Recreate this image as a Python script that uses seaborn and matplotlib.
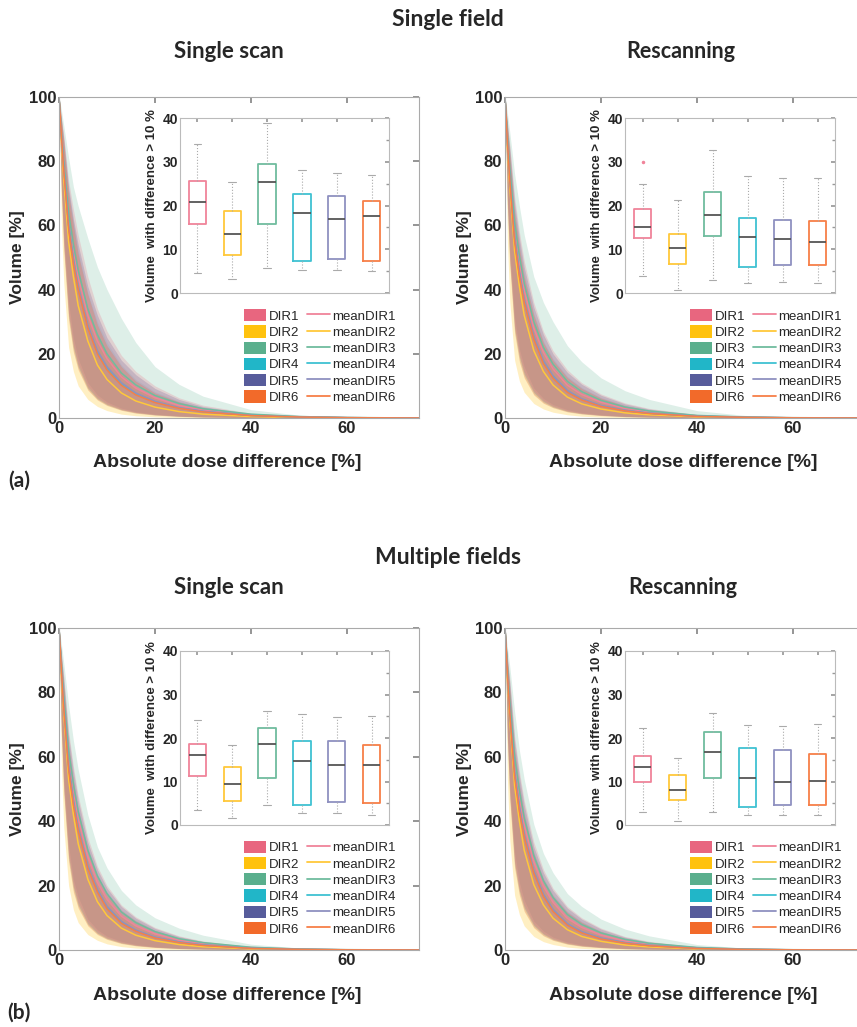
import matplotlib
matplotlib.use("Agg")
import matplotlib.pyplot as plt
import seaborn as sns
from matplotlib.patches import Patch
from matplotlib.lines import Line2D
from matplotlib.ticker import MultipleLocator

# absolute dose difference [%] at which the curves were read
dose = [0, 0.5, 1, 2, 3, 4, 6, 8, 10, 13, 16, 20, 25, 30, 40, 50, 60, 75]
dirs = ["DIR1", "DIR2", "DIR3", "DIR4", "DIR5", "DIR6"]

band_colors = ["#E8667F", "#FFC20E", "#5AAF8D", "#21B6C8", "#575C9B", "#F26A2A"]
line_colors = ["#F0849A", "#FFC83A", "#70BC9E", "#3FC2D2", "#8F91C0", "#F77F48"]
band_alpha = [0.22, 0.25, 0.2, 0.12, 0.25, 0.28]
band_order = [1, 2, 3, 4, 5, 0]

# --- Single field, single scan: volume [%] per DIR (rows DIR1..DIR6) ---
sf_ss_mean = [
    [100, 89, 80, 63, 52.5, 44, 32, 24, 18.5, 12.8, 9.3, 6.3, 3.9, 2.5, 1.0, 0.4, 0.1, 0],
    [100, 86, 74, 55, 44, 35, 24, 16.5, 12, 7.8, 5.3, 3.4, 2.0, 1.2, 0.45, 0.15, 0.05, 0],
    [100, 89, 80, 64, 54, 46, 34, 26, 20, 14, 10.3, 7.0, 4.5, 2.9, 1.2, 0.45, 0.15, 0],
    [100, 88, 78, 60, 49, 40.5, 28.5, 20.5, 15.5, 10.5, 7.5, 5.0, 3.1, 2.0, 0.8, 0.3, 0.1, 0],
    [100, 88, 78, 60, 49.5, 41, 29, 21, 16, 11, 7.8, 5.2, 3.2, 2.1, 0.8, 0.3, 0.1, 0],
    [100, 88, 77, 59, 48, 40, 28, 20, 15, 10.2, 7.2, 4.8, 3.0, 1.9, 0.75, 0.3, 0.1, 0],
]
sf_ss_low = [
    [100, 72, 55, 33, 23, 17, 10, 6.5, 4.5, 2.8, 1.8, 1.1, 0.6, 0.35, 0.1, 0.03, 0, 0],
    [100, 60, 42, 22, 14.5, 10, 5.8, 3.6, 2.3, 1.2, 0.7, 0.35, 0.15, 0.05, 0, 0, 0, 0],
    [100, 74, 58, 36, 25, 18.5, 11, 7.2, 5.0, 3.1, 2.0, 1.2, 0.65, 0.4, 0.12, 0.04, 0, 0],
    [100, 70, 53, 31, 21, 15.5, 9, 5.8, 4.0, 2.5, 1.6, 0.95, 0.5, 0.3, 0.08, 0.02, 0, 0],
    [100, 71, 54, 32, 22, 16, 9.3, 6.0, 4.2, 2.6, 1.7, 1.0, 0.55, 0.3, 0.08, 0.02, 0, 0],
    [100, 70, 52, 30.5, 20.5, 15, 8.7, 5.6, 3.9, 2.4, 1.5, 0.9, 0.5, 0.28, 0.08, 0.02, 0, 0],
]
sf_ss_high = [
    [100, 94, 88, 74, 65, 57, 44, 34, 27, 19.5, 14.5, 10, 6.3, 4.0, 1.5, 0.5, 0.15, 0],
    [100, 92, 84, 67, 56, 47, 34, 25.5, 19.5, 13.5, 9.5, 6.3, 3.9, 2.4, 0.9, 0.3, 0.1, 0],
    [100, 96, 91, 81, 72, 66, 56, 47, 40, 31, 23.5, 16, 10.5, 6.8, 2.6, 0.9, 0.3, 0],
    [100, 93, 86, 71, 61, 52, 39, 30, 23.5, 16.5, 12, 8.2, 5.2, 3.3, 1.2, 0.4, 0.1, 0],
    [100, 93, 87, 72, 62, 54, 41, 32, 25, 18, 13.5, 9.2, 5.8, 3.6, 1.3, 0.45, 0.15, 0],
    [100, 93, 86, 70, 60, 51, 38.5, 29, 22.5, 16, 11.5, 7.8, 5.0, 3.1, 1.1, 0.4, 0.1, 0],
]

# --- Single field, rescanning ---
sf_rs_mean = [
    [100, 87, 77, 59, 48.5, 40, 28, 20.5, 15.3, 10.2, 7.3, 4.9, 3.0, 1.9, 0.7, 0.25, 0.08, 0],
    [100, 84, 72, 52, 41, 32, 21, 14.5, 10.3, 6.5, 4.4, 2.8, 1.6, 1.0, 0.35, 0.1, 0.03, 0],
    [100, 88, 78, 61, 50.5, 42, 30, 22, 16.8, 11.4, 8.2, 5.5, 3.4, 2.2, 0.8, 0.3, 0.1, 0],
    [100, 86, 75, 56, 45, 36.5, 25, 17.5, 12.8, 8.3, 5.8, 3.8, 2.3, 1.5, 0.55, 0.2, 0.05, 0],
    [100, 86, 75, 56.5, 45.5, 37, 25.5, 18, 13.2, 8.6, 6.0, 3.9, 2.4, 1.5, 0.55, 0.2, 0.05, 0],
    [100, 86, 74, 55, 44, 36, 24.5, 17, 12.4, 8.0, 5.6, 3.6, 2.2, 1.4, 0.5, 0.2, 0.05, 0],
]
sf_rs_low = [
    [100, 68, 50, 29, 20, 14.5, 8.5, 5.5, 3.8, 2.3, 1.5, 0.9, 0.5, 0.3, 0.08, 0.02, 0, 0],
    [100, 55, 36, 18, 11.5, 8, 4.5, 2.8, 1.8, 1.0, 0.55, 0.28, 0.12, 0.04, 0, 0, 0, 0],
    [100, 70, 53, 31.5, 21.5, 16, 9.3, 6.1, 4.2, 2.6, 1.7, 1.0, 0.55, 0.33, 0.1, 0.03, 0, 0],
    [100, 66, 48, 27, 18, 13, 7.5, 4.8, 3.3, 2.0, 1.3, 0.8, 0.42, 0.25, 0.06, 0.02, 0, 0],
    [100, 67, 49, 28, 19, 13.6, 7.9, 5.1, 3.5, 2.1, 1.4, 0.85, 0.45, 0.27, 0.07, 0.02, 0, 0],
    [100, 66, 47.5, 26.5, 17.5, 12.5, 7.2, 4.6, 3.2, 1.9, 1.25, 0.75, 0.4, 0.24, 0.06, 0.02, 0, 0],
]
sf_rs_high = [
    [100, 92, 85, 69, 58, 49, 36, 27, 21, 15, 11, 7.5, 4.7, 3.0, 1.1, 0.4, 0.1, 0],
    [100, 90, 80, 61, 50, 41, 29, 21, 15.8, 11, 7.8, 5.2, 3.1, 1.9, 0.7, 0.25, 0.08, 0],
    [100, 95, 89, 76, 66, 57, 44, 36, 30, 22.5, 17.5, 12.5, 8.5, 5.8, 2.3, 0.8, 0.25, 0],
    [100, 91, 83, 65, 54, 45, 32.5, 24, 18.5, 13, 9.5, 6.4, 4.0, 2.5, 0.9, 0.3, 0.1, 0],
    [100, 92, 84, 67, 56, 47, 34.5, 26, 20, 14.2, 10.5, 7.1, 4.4, 2.8, 1.0, 0.35, 0.1, 0],
    [100, 91, 82, 64, 53, 44, 32, 23.5, 18, 12.6, 9.2, 6.2, 3.8, 2.4, 0.85, 0.3, 0.1, 0],
]

# --- Multiple fields, single scan ---
mf_ss_mean = [
    [100, 88, 78, 60, 49.5, 41, 29, 21, 15.8, 10.5, 7.5, 5.0, 3.1, 2.0, 0.75, 0.25, 0.08, 0],
    [100, 85, 73, 53, 42, 33, 22, 15, 10.7, 6.8, 4.6, 2.9, 1.7, 1.0, 0.35, 0.1, 0.03, 0],
    [100, 89, 79, 62, 51.5, 43, 31, 23, 17.5, 11.8, 8.5, 5.7, 3.5, 2.3, 0.85, 0.3, 0.1, 0],
    [100, 87, 76, 57, 46, 37.5, 25.8, 18.5, 13.2, 8.6, 6.0, 3.9, 2.4, 1.5, 0.55, 0.2, 0.05, 0],
    [100, 87, 76, 57.5, 46.5, 38, 26.3, 18.8, 13.6, 8.9, 6.2, 4.0, 2.5, 1.6, 0.55, 0.2, 0.05, 0],
    [100, 87, 75, 56, 45, 37, 25.3, 18, 12.8, 8.3, 5.8, 3.7, 2.3, 1.4, 0.5, 0.2, 0.05, 0],
]
mf_ss_low = [
    [100, 69, 51, 30, 20.5, 15, 8.8, 5.7, 3.9, 2.4, 1.55, 0.92, 0.5, 0.3, 0.08, 0.02, 0, 0],
    [100, 57, 38, 20, 12.5, 8.5, 4.8, 3.0, 1.9, 1.05, 0.6, 0.3, 0.12, 0.04, 0, 0, 0, 0],
    [100, 71, 54, 32.5, 22, 16.5, 9.6, 6.3, 4.3, 2.7, 1.75, 1.05, 0.58, 0.34, 0.1, 0.03, 0, 0],
    [100, 67, 49, 28, 18.5, 13.5, 7.8, 5.0, 3.4, 2.1, 1.35, 0.82, 0.44, 0.26, 0.06, 0.02, 0, 0],
    [100, 68, 50, 29, 19.5, 14, 8.1, 5.2, 3.6, 2.2, 1.45, 0.87, 0.47, 0.28, 0.07, 0.02, 0, 0],
    [100, 67, 48.5, 27.5, 18, 13, 7.5, 4.8, 3.3, 2.0, 1.3, 0.78, 0.42, 0.25, 0.06, 0.02, 0, 0],
]
mf_ss_high = [
    [100, 92, 85, 68, 57, 48, 35, 26, 20, 14, 10.3, 7.0, 4.4, 2.8, 1.0, 0.35, 0.1, 0],
    [100, 90, 80, 60, 49, 40, 28, 20.5, 15.3, 10.5, 7.5, 5.0, 3.0, 1.8, 0.65, 0.22, 0.07, 0],
    [100, 95, 89, 76, 65, 56, 42, 32, 25.5, 18.5, 14, 10, 6.8, 4.6, 1.8, 0.65, 0.2, 0],
    [100, 91, 83, 64.5, 53.5, 44.5, 32, 23.5, 18, 12.5, 9.2, 6.2, 3.9, 2.4, 0.9, 0.3, 0.1, 0],
    [100, 92, 84, 66.5, 55.5, 46.5, 33.5, 25, 19.2, 13.5, 9.9, 6.7, 4.2, 2.6, 0.95, 0.33, 0.1, 0],
    [100, 91, 82, 63.5, 52.5, 43.5, 31.3, 23, 17.5, 12.2, 9.0, 6.0, 3.7, 2.3, 0.85, 0.3, 0.1, 0],
]

# --- Multiple fields, rescanning ---
mf_rs_mean = [
    [100, 87, 76.5, 58, 47.5, 39, 27.3, 19.8, 14.8, 9.8, 7.0, 4.6, 2.8, 1.8, 0.68, 0.23, 0.07, 0],
    [100, 84, 71.5, 51, 40, 31, 20.3, 14, 9.9, 6.3, 4.2, 2.7, 1.55, 0.95, 0.33, 0.1, 0.03, 0],
    [100, 88, 77.5, 60, 49.5, 41, 29.3, 21.5, 16.3, 11, 7.9, 5.3, 3.3, 2.1, 0.8, 0.28, 0.09, 0],
    [100, 86, 74, 55, 44, 35.5, 24.2, 17, 12.3, 8.0, 5.5, 3.6, 2.2, 1.4, 0.5, 0.18, 0.05, 0],
    [100, 86, 74.5, 55.5, 44.5, 36, 24.7, 17.4, 12.7, 8.2, 5.7, 3.7, 2.3, 1.45, 0.52, 0.18, 0.05, 0],
    [100, 86, 73.5, 54, 43, 35, 23.8, 16.6, 12, 7.7, 5.3, 3.4, 2.1, 1.3, 0.48, 0.17, 0.05, 0],
]
mf_rs_low = [
    [100, 67, 49, 28, 19, 14, 8.1, 5.2, 3.6, 2.2, 1.4, 0.85, 0.46, 0.27, 0.07, 0.02, 0, 0],
    [100, 53, 34, 17, 11, 7.5, 4.2, 2.6, 1.7, 0.9, 0.5, 0.25, 0.1, 0.03, 0, 0, 0, 0],
    [100, 69, 52, 30.5, 21, 15.5, 9, 5.9, 4.0, 2.5, 1.6, 0.97, 0.53, 0.31, 0.09, 0.03, 0, 0],
    [100, 65, 47, 26, 17.5, 12.5, 7.2, 4.6, 3.1, 1.9, 1.2, 0.75, 0.4, 0.23, 0.06, 0.02, 0, 0],
    [100, 66, 48, 27, 18.3, 13.1, 7.6, 4.9, 3.3, 2.0, 1.3, 0.8, 0.43, 0.25, 0.06, 0.02, 0, 0],
    [100, 65, 46.5, 25.5, 17, 12, 6.9, 4.4, 3.0, 1.8, 1.15, 0.72, 0.38, 0.22, 0.05, 0.02, 0, 0],
]
mf_rs_high = [
    [100, 91, 84, 66.5, 55.5, 46.5, 33.5, 25, 19.2, 13.5, 10, 6.8, 4.2, 2.7, 1.0, 0.33, 0.1, 0],
    [100, 89, 79, 59, 47.5, 38.5, 26.8, 19.5, 14.6, 10, 7.1, 4.7, 2.8, 1.7, 0.6, 0.2, 0.06, 0],
    [100, 94, 88, 74, 62, 53, 39, 30, 24, 17.5, 13.5, 9.6, 6.5, 4.4, 1.7, 0.6, 0.2, 0],
    [100, 90, 82, 63, 52, 43, 30.5, 22.5, 17.2, 12, 8.8, 5.9, 3.7, 2.3, 0.85, 0.28, 0.08, 0],
    [100, 91, 83, 65, 54, 45, 32, 24, 18.5, 13, 9.6, 6.5, 4.0, 2.5, 0.92, 0.3, 0.1, 0],
    [100, 90, 81, 62, 51, 42, 30, 22, 16.8, 11.7, 8.6, 5.7, 3.6, 2.2, 0.8, 0.27, 0.08, 0],
]

# --- boxplots: volume with difference > 10 % (DIR1..DIR6) ---
sf_ss_box_lo = [4.5, 3.1, 5.7, 5.3, 5.2, 5.0]
sf_ss_box_q1 = [15.8, 8.6, 15.8, 7.3, 7.7, 7.4]
sf_ss_box_med = [20.7, 13.5, 25.4, 18.3, 16.9, 17.6]
sf_ss_box_q3 = [25.6, 18.7, 29.4, 22.6, 22.1, 21.0]
sf_ss_box_hi = [34.0, 25.4, 38.8, 28.2, 27.4, 27.0]

sf_rs_box_lo = [3.8, 0.8, 2.9, 2.2, 2.5, 2.4]
sf_rs_box_q1 = [12.5, 6.7, 13.1, 5.9, 6.5, 6.4]
sf_rs_box_med = [15.2, 10.4, 17.8, 12.9, 12.3, 11.7]
sf_rs_box_q3 = [19.3, 13.6, 23.2, 17.1, 16.8, 16.5]
sf_rs_box_hi = [24.9, 21.3, 32.8, 26.8, 26.3, 26.3]
sf_rs_box_out = [[29.9], [], [], [], [], []]

mf_ss_box_lo = [3.4, 1.5, 4.6, 2.7, 2.7, 2.3]
mf_ss_box_q1 = [11.3, 5.6, 10.8, 4.7, 5.2, 5.0]
mf_ss_box_med = [16.1, 9.5, 18.7, 14.7, 13.7, 13.8]
mf_ss_box_q3 = [18.6, 13.3, 22.3, 19.3, 19.2, 18.3]
mf_ss_box_hi = [24.1, 18.4, 26.2, 25.5, 24.9, 25.0]

mf_rs_box_lo = [3.0, 1.0, 3.1, 2.3, 2.2, 2.2]
mf_rs_box_q1 = [9.8, 5.8, 10.7, 4.2, 4.7, 4.7]
mf_rs_box_med = [13.3, 8.0, 16.8, 10.8, 10.0, 10.2]
mf_rs_box_q3 = [15.8, 11.5, 21.3, 17.6, 17.2, 16.4]
mf_rs_box_hi = [22.4, 15.5, 25.8, 23.0, 22.8, 23.2]

sns.set_theme(style="white")
plt.rcParams['font.family'] = ['Liberation Sans', 'DejaVu Sans']

W, H = 857, 1027
fig = plt.figure(figsize=(W / 100, H / 100), dpi=100)


def px(x0, y0, x1, y1):
    # pixel box -> figure fraction rect
    return [x0 / W, 1 - y1 / H, (x1 - x0) / W, (y1 - y0) / H]


def panel(rect, inset_rect, mean, low, high, lo, q1, med, q3, hi, out=None):
    ax = fig.add_axes(rect)
    for i in band_order:
        ax.fill_between(dose, low[i], high[i], color=band_colors[i], alpha=band_alpha[i], lw=0)
    for i in range(6):
        sns.lineplot(x=dose, y=mean[i], ax=ax, color=line_colors[i], lw=1.1)
    ax.set_xlim(0, 75)
    ax.set_ylim(0, 100)
    ax.set_xticks([0, 20, 40, 60])
    ax.set_yticks([0, 20, 40, 60, 80, 100])
    ax.tick_params(direction='in', length=4, color='#888888', top=True, right=True,
                   labelsize=12, pad=2)
    for t in ax.get_xticklabels() + ax.get_yticklabels():
        t.set_fontweight('bold')
    for s in ax.spines.values():
        s.set_color('#aaaaaa')
        s.set_linewidth(0.8)

    handles = [Patch(facecolor=c, edgecolor='none') for c in band_colors]
    handles += [Line2D([], [], color=c, lw=1.3) for c in line_colors]
    labels = dirs + ["mean" + d for d in dirs]
    ax.legend(handles, labels, ncol=2, loc='upper left', bbox_to_anchor=(0.495, 0.36),
              frameon=False, fontsize=9.5, handlelength=1.7, handleheight=1.05,
              handletextpad=0.2, columnspacing=0.6, labelspacing=0.2, borderpad=0)

    ins = fig.add_axes(inset_rect)
    stats = []
    for i in range(6):
        stats.append(dict(whislo=lo[i], q1=q1[i], med=med[i], q3=q3[i], whishi=hi[i],
                          fliers=out[i] if out else []))
    bp = ins.bxp(stats, positions=range(1, 7), widths=0.5, capwidths=0.22,
                 patch_artist=False,
                 medianprops=dict(color='#555555', lw=1.3),
                 whiskerprops=dict(color='#aaaaaa', lw=0.8, ls=':'),
                 capprops=dict(color='#aaaaaa', lw=0.8),
                 flierprops=dict(marker='.', markersize=3, markeredgecolor=line_colors[0],
                                 markerfacecolor=line_colors[0]))
    for i, b in enumerate(bp['boxes']):
        b.set_color(line_colors[i])
        b.set_linewidth(1.3)
    ins.set_xlim(0.5, 6.5)
    ins.set_ylim(0, 40)
    ins.set_yticks([0, 10, 20, 30, 40])
    ins.yaxis.set_minor_locator(MultipleLocator(5))
    ins.set_xticks(range(1, 7))
    ins.set_xticklabels([])
    ins.tick_params(which='both', direction='in', length=3, color='#999999',
                    top=True, right=True, labelsize=10, pad=1.5)
    ins.tick_params(which='minor', length=2)
    for t in ins.get_yticklabels():
        t.set_fontweight('bold')
    for s in ins.spines.values():
        s.set_color('#bbbbbb')
        s.set_linewidth(0.8)
    ins.set_ylabel("Volume  with difference > 10 %", fontsize=9.5, fontweight='bold', labelpad=3)
    ins.set_facecolor('white')
    return ax


panel(px(59, 97, 419, 418), px(180, 118, 389, 293), sf_ss_mean, sf_ss_low, sf_ss_high,
      sf_ss_box_lo, sf_ss_box_q1, sf_ss_box_med, sf_ss_box_q3, sf_ss_box_hi)
panel(px(505, 97, 865, 418), px(625, 118, 835, 293), sf_rs_mean, sf_rs_low, sf_rs_high,
      sf_rs_box_lo, sf_rs_box_q1, sf_rs_box_med, sf_rs_box_q3, sf_rs_box_hi, sf_rs_box_out)
panel(px(59, 628, 419, 950), px(180, 651, 389, 825), mf_ss_mean, mf_ss_low, mf_ss_high,
      mf_ss_box_lo, mf_ss_box_q1, mf_ss_box_med, mf_ss_box_q3, mf_ss_box_hi)
panel(px(505, 628, 865, 950), px(625, 651, 835, 825), mf_rs_mean, mf_rs_low, mf_rs_high,
      mf_rs_box_lo, mf_rs_box_q1, mf_rs_box_med, mf_rs_box_q3, mf_rs_box_hi)

# titles and labels
head = dict(family=['Lato', 'DejaVu Sans'], fontweight='bold', ha='center', va='center')
fig.text(448 / W, 1 - 20 / H, "Single field", fontsize=16.5, **head)
fig.text(229 / W, 1 - 52 / H, "Single scan", fontsize=16, **head)
fig.text(681 / W, 1 - 52 / H, "Rescanning", fontsize=15.5, **head)
fig.text(448 / W, 1 - 557 / H, "Multiple fields", fontsize=16.5, **head)
fig.text(229 / W, 1 - 588 / H, "Single scan", fontsize=16, **head)
fig.text(683 / W, 1 - 588 / H, "Rescanning", fontsize=15.5, **head)
fig.text(19 / W, 1 - 481 / H, "(a)", fontsize=15, **head)
fig.text(19 / W, 1 - 1013 / H, "(b)", fontsize=15, **head)

for xc, yc in [(227, 462), (683, 462), (227, 995), (683, 995)]:
    fig.text(xc / W, 1 - yc / H, "Absolute dose difference [%]",
             fontweight='bold', fontsize=14, ha='center', va='center')
for xc, yc in [(18, 257), (464, 257), (18, 789), (464, 789)]:
    fig.text(xc / W, 1 - yc / H, "Volume [%]", rotation=90,
             fontweight='bold', fontsize=12.5, ha='center', va='center')

fig.savefig("out.png", dpi=100)
